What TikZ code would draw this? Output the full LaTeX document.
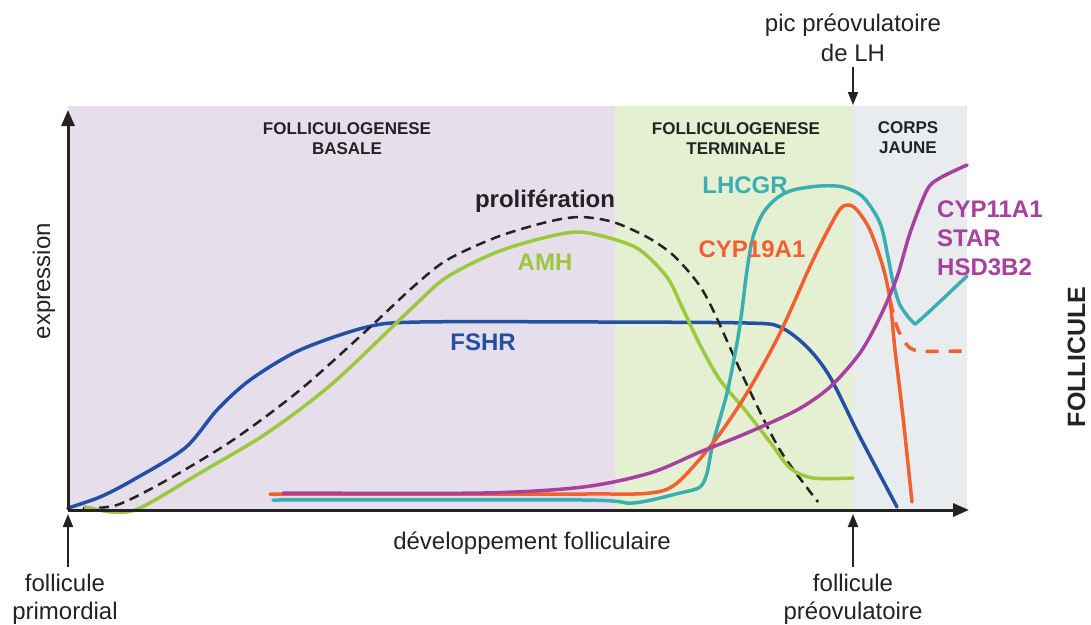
\documentclass[tikz,border=0pt]{standalone}
\usepackage{fontspec}
\setmainfont{Liberation Sans}
\usetikzlibrary{arrows.meta}

\definecolor{fondbasal}{RGB}{231,222,236}
\definecolor{fondterm}{RGB}{229,240,211}
\definecolor{fondcj}{RGB}{233,236,239}
\definecolor{bleu}{RGB}{35,80,165}
\definecolor{vert}{RGB}{155,200,60}
\definecolor{turq}{RGB}{58,175,176}
\definecolor{rouge}{RGB}{242,96,48}
\definecolor{mauve}{RGB}{168,64,158}
\definecolor{noir}{RGB}{35,35,35}

\tikzset{
  courbe/.style={line width=3.5pt, line cap=round, line join=round},
  axe/.style={line width=3pt, noir, -{Triangle[length=16pt,width=13pt]}},
  fleche/.style={line width=2pt, noir, -{Triangle[length=13pt,width=10pt]}},
  txt/.style={inner sep=0pt, text=noir, align=center, font=\fontsize{24}{28}\selectfont},
  titre/.style={inner sep=0pt, text=noir, align=center, font=\bfseries\fontsize{17}{20.5}\selectfont},
  gene/.style={inner sep=0pt, font=\bfseries\fontsize{24}{29}\selectfont},
}

\begin{document}
\begin{tikzpicture}[x=1pt, y=-1pt]
\useasboundingbox (0,0) rectangle (1091,624);

%% fonds
\fill[fondbasal] (68,106) rectangle (615,510);
\fill[fondterm] (615,106) rectangle (853,510);
\fill[fondcj] (853,106) rectangle (967,510);

%% titres des phases
\node[titre, anchor=north] (basale) at (347,122) {FOLLICULOGENESE\\BASALE};
\node[titre, anchor=north] (terminale) at (736,122) {FOLLICULOGENESE\\TERMINALE};
\node[titre, anchor=north] (corps) at (908,121) {CORPS\\JAUNE};

%% courbes
\draw[courbe, bleu] plot[smooth, tension=0.5] coordinates {(68,508) (100,497) (133,480) (185,448) (217,410) (250,380) (300,350) (367,327) (420,322) (600,322) (747,323) (780,327) (807,347) (830,377) (860,437) (897,507)};
\draw[courbe, noir, line width=2.5pt, line cap=butt, dash pattern=on 10pt off 6pt] plot[smooth, tension=0.5] coordinates {(83,508) (117,505) (167,480) (233,440) (300,390) (367,330) (413,287) (447,260) (497,237) (547,222) (580,217) (613,222) (647,237) (673,255) (697,282) (713,310) (747,385) (780,450) (818,502)};
\draw[courbe, vert] plot[smooth, tension=0.5] coordinates {(85,507) (113,512) (140,508) (200,473) (267,433) (333,383) (413,307) (447,277) (497,252) (547,237) (580,232) (613,239) (640,250) (667,277) (682,307) (700,345) (720,380) (745,410) (770,442) (790,468) (813,478) (853,478)};
\draw[courbe, turq] plot[smooth, tension=0.5] coordinates {(273,500) (583,500) (633,503) (680,493) (700,487) (707,473) (713,443) (727,393) (737,343) (742,310) (747,270) (753,237) (763,213) (777,198) (793,190) (820,186) (843,187) (863,197) (880,223) (888,257) (893,282) (900,305) (913,322) (920,320) (967,276)};
\draw[courbe, rouge] plot[smooth, tension=0.5] coordinates {(270,494) (583,494) (650,493) (677,483) (713,443) (747,393) (780,333) (813,260) (838,212) (848,205) (857,210) (870,230) (883,267) (890,300) (895,350) (903,417) (912,502)};
\draw[courbe, rouge, line cap=butt, dash pattern=on 13pt off 10pt] plot[smooth, tension=0.5] coordinates {(890,300) (897,327) (907,345) (920,351) (965,351)};
\draw[courbe, mauve] plot[smooth, tension=0.5] coordinates {(283,493) (483,493) (583,487) (650,473) (700,452) (747,433) (797,410) (830,387) (860,353) (880,317) (897,277) (910,233) (927,190) (940,178) (967,165)};

%% noms des genes
\node[gene, text=noir, anchor=base] (prolif) at (545,207) {prolifération};
\node[gene, text=vert, anchor=base] (amh) at (545,270) {AMH};
\node[gene, text=bleu, anchor=base] (fshr) at (483,350) {FSHR};
\node[gene, text=turq, anchor=base] (lhcgr) at (745,193) {LHCGR};
\node[gene, text=rouge, anchor=base] (cyp19) at (752,257) {CYP19A1};
\node[gene, text=mauve, anchor=north west, align=left] (cyp11) at (937,201) {CYP11A1\\STAR\\HSD3B2};

%% axes
\coordinate (o) at (68,510);
\coordinate (ymax) at (68,110);
\coordinate (xmax) at (969,510);
\draw[axe] (o) -- (ymax);
\draw[axe] (o) -- (xmax);

\node[txt, rotate=90, anchor=base] (expr) at (50,281) {expression};
\node[txt, anchor=base] (dev) at (532,549) {développement folliculaire};
\node[gene, text=noir, rotate=90, anchor=base, font=\bfseries\fontsize{25}{29}\selectfont] (foll) at (1085,357) {FOLLICULE};

%% reperes
\node[txt, anchor=north] (primordial) at (65,574) {follicule\\primordial};
\node[txt, anchor=north] (preov) at (853,574) {follicule\\préovulatoire};
\node[txt, anchor=south, font=\fontsize{24}{30}\selectfont] (piclh) at (853,62) {pic préovulatoire\\de LH};
\coordinate (p1) at (68,514);
\coordinate (p2) at (853,514);
\coordinate (p3) at (853,105);
\draw[fleche] ([yshift=7pt]primordial.north -| p1) -- (p1);
\draw[fleche] ([yshift=7pt]preov.north) -- (p2);
\draw[fleche] ([yshift=-5pt]piclh.south) -- (p3);
\end{tikzpicture}
\end{document}
